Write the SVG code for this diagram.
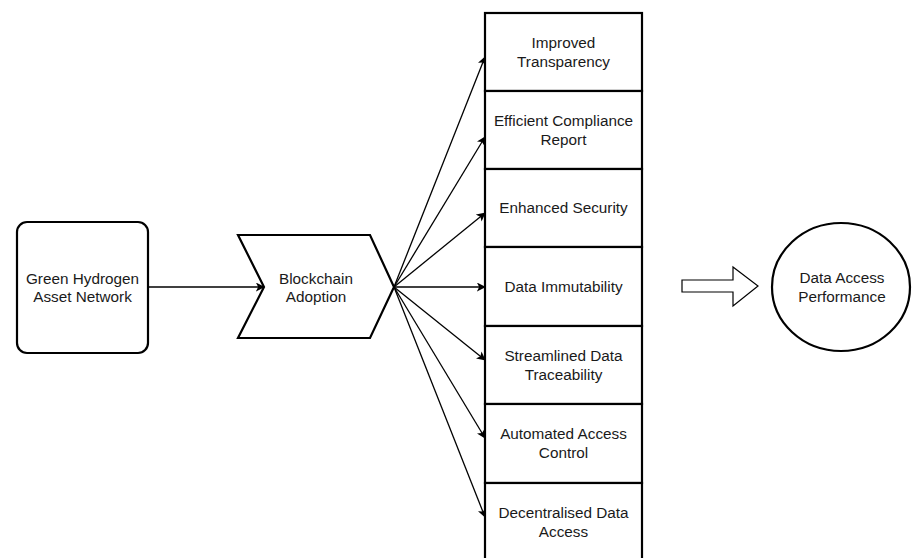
<svg xmlns="http://www.w3.org/2000/svg" width="912" height="558" viewBox="0 0 912 558">
<defs>
<style>
.shape{fill:#fff;stroke:#000;stroke-width:2.2}
.t{font-family:"Liberation Sans",Arial,sans-serif;font-size:15.3px;fill:#1a1a1a;text-anchor:middle}
.c{stroke:#000;stroke-width:1.3;fill:none;marker-end:url(#ah)}
</style>
<marker id="ah" viewBox="0 0 10 10" refX="9" refY="5" markerWidth="9" markerHeight="9" markerUnits="userSpaceOnUse" orient="auto">
<path d="M0,0 L10,5 L0,10 L2.5,5 Z" fill="#000"/>
</marker>
</defs>
<rect width="912" height="558" fill="#fff"/>
<g id="connectors">
<line class="c" x1="148" y1="287" x2="264" y2="287"/>
<line class="c" x1="394" y1="287" x2="485" y2="57"/>
<line class="c" x1="394" y1="287" x2="485" y2="137"/>
<line class="c" x1="394" y1="287" x2="485" y2="213"/>
<line class="c" x1="394" y1="287" x2="485" y2="287"/>
<line class="c" x1="394" y1="287" x2="485" y2="360"/>
<line class="c" x1="394" y1="287" x2="485" y2="438"/>
<line class="c" x1="394" y1="287" x2="485" y2="517"/>
</g>
<g id="green-hydrogen">
<rect class="shape" x="17" y="222" width="131" height="131" rx="10"/>
<text class="t" x="82.5" y="284">Green Hydrogen</text>
<text class="t" x="82.5" y="302">Asset Network</text>
</g>
<g id="blockchain">
<path class="shape" d="M238,235 L370,235 L394,287 L370,338 L238,338 L264,287 Z"/>
<text class="t" x="316" y="284">Blockchain</text>
<text class="t" x="316" y="302">Adoption</text>
</g>
<g id="b1">
<rect class="shape" x="485" y="13" width="157" height="78"/>
<text class="t" x="563.5" y="48">Improved</text>
<text class="t" x="563.5" y="67">Transparency</text>
</g>
<g id="b2">
<rect class="shape" x="485" y="91" width="157" height="78"/>
<text class="t" x="563.5" y="126">Efficient Compliance</text>
<text class="t" x="563.5" y="145">Report</text>
</g>
<g id="b3">
<rect class="shape" x="485" y="169" width="157" height="78"/>
<text class="t" x="563.5" y="213">Enhanced Security</text>
</g>
<g id="b4">
<rect class="shape" x="485" y="247" width="157" height="79"/>
<text class="t" x="563.5" y="292">Data Immutability</text>
</g>
<g id="b5">
<rect class="shape" x="485" y="326" width="157" height="78"/>
<text class="t" x="563.5" y="361">Streamlined Data</text>
<text class="t" x="563.5" y="380">Traceability</text>
</g>
<g id="b6">
<rect class="shape" x="485" y="404" width="157" height="79"/>
<text class="t" x="563.5" y="439">Automated Access</text>
<text class="t" x="563.5" y="458">Control</text>
</g>
<g id="b7">
<rect class="shape" x="485" y="483" width="157" height="79"/>
<text class="t" x="563.5" y="518">Decentralised Data</text>
<text class="t" x="563.5" y="537">Access</text>
</g>
<g id="block-arrow">
<path d="M682,280 L733,280 L733,267 L758,286 L733,306 L733,292 L682,292 Z" fill="#fff" stroke="#000" stroke-width="1.2"/>
</g>
<g id="performance">
<ellipse class="shape" cx="841" cy="287" rx="69" ry="64" stroke-width="2.8"/>
<text class="t" x="842" y="283">Data Access</text>
<text class="t" x="842" y="302">Performance</text>
</g>
</svg>
